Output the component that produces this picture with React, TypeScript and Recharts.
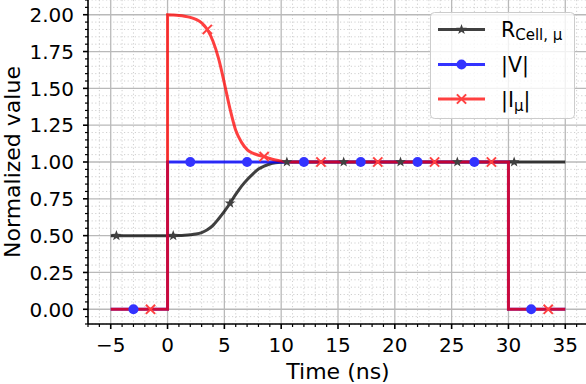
import React from 'react';
import { LineChart, Line, XAxis, YAxis, CartesianGrid } from 'recharts';

const FONT = '"DejaVu Sans", Verdana, sans-serif';

// ---- data ----
const rTime = [-5, -4.5, 0, 0.5, 1, 1.5, 2, 2.5, 3, 3.5, 4, 4.5, 5, 5.5, 6, 6.5, 7, 7.5, 8, 8.5, 9, 9.5, 10, 10.5, 11, 15.5, 20.5, 25.5, 30.5, 35];
const rValue = [0.5, 0.5, 0.5, 0.5, 0.501, 0.503, 0.506, 0.511, 0.521, 0.54, 0.57, 0.615, 0.665, 0.72, 0.78, 0.835, 0.88, 0.918, 0.952, 0.972, 0.986, 0.994, 0.998, 1.0, 1.0, 1.0, 1.0, 1.0, 1.0, 1.0];

const vTime = [-5, -3, 0, 0, 2, 7, 12, 17, 22, 27, 30, 30, 32, 35];
const vValue = [0, 0, 0, 1, 1, 1, 1, 1, 1, 1, 1, 0, 0, 0];

const iTime = [-5, -1.5, 0, 0, 0.5, 1, 1.5, 2, 2.5, 3, 3.5, 4, 4.5, 5, 5.5, 6, 6.5, 7, 7.5, 8, 8.5, 9, 9.5, 10, 11, 13.5, 18.5, 23.5, 28.5, 30, 30, 33.5, 35];
const iValue = [0, 0, 0, 2.0, 1.998, 1.995, 1.99, 1.982, 1.968, 1.945, 1.9, 1.82, 1.7, 1.535, 1.36, 1.215, 1.135, 1.084, 1.06, 1.046, 1.037, 1.024, 1.013, 1.006, 1.0, 1, 1, 1, 1, 1, 0, 0, 0];

// marker positions (markevery)
const rMarks = [-4.5, 0.5, 5.5, 10.5, 15.5, 20.5, 25.5, 30.5];
const vMarks = [-3, 2, 7, 12, 17, 22, 27, 32];
const iMarks = [-1.5, 3.5, 8.5, 13.5, 18.5, 23.5, 28.5, 33.5];

// ticks
const xMajorTicks = [-5, 0, 5, 10, 15, 20, 25, 30, 35];
const yMajorTicks = [0, 0.25, 0.5, 0.75, 1, 1.25, 1.5, 1.75, 2];
const xDomain: [number, number] = [-7, 37];
const yDomain: [number, number] = [-0.1, 2.1];

const xMinorTicks: number[] = [];
for (let v = -7; v <= 37; v++) if (v % 5 !== 0) xMinorTicks.push(v);
const yMinorTicks: number[] = [];
for (let k = -2; k <= 42; k++) if (k % 5 !== 0) yMinorTicks.push(Math.round(k * 5) / 100);
const xAllTicks = [...xMinorTicks, ...xMajorTicks].sort((a, b) => a - b);
const yAllTicks = [...yMinorTicks, ...yMajorTicks].sort((a, b) => a - b);

const zip = (xs: number[], ys: number[]) => xs.map((x, i) => ({ x, y: ys[i] }));
const rData = zip(rTime, rValue);
const vData = zip(vTime, vValue);
const iData = zip(iTime, iValue);

// colours
const BLACK = '#000000';
const BLUE = '#0000ff';
const RED = '#ff0000';
const BLACK_M = '#404040';
const BLUE_M = '#3333ff';
const RED_M = '#ff4040';

const starPath = (cx: number, cy: number, R = 5.6, r = 2.3) => {
  let d = '';
  for (let i = 0; i < 10; i++) {
    const a = -Math.PI / 2 + (i * Math.PI) / 5;
    const rad = i % 2 === 0 ? R : r;
    d += (i === 0 ? 'M' : 'L') + (cx + rad * Math.cos(a)).toFixed(2) + ',' + (cy + rad * Math.sin(a)).toFixed(2);
  }
  return d + 'Z';
};

const Star = ({ cx, cy }: { cx: number; cy: number }) => <path d={starPath(cx, cy)} fill={BLACK_M} />;
const Circ = ({ cx, cy }: { cx: number; cy: number }) => <circle cx={cx} cy={cy} r={5} fill={BLUE_M} />;
const Cross = ({ cx, cy }: { cx: number; cy: number }) => (
  <g stroke={RED_M} strokeWidth={2}>
    <line x1={cx - 4.6} y1={cy - 4.6} x2={cx + 4.6} y2={cy + 4.6} />
    <line x1={cx - 4.6} y1={cy + 4.6} x2={cx + 4.6} y2={cy - 4.6} />
  </g>
);

const makeDot = (marks: number[], Shape: any) => (props: any) => {
  const { cx, cy, payload, index } = props;
  if (!payload || !marks.includes(payload.x) || cx == null || cy == null) return <g key={'d' + index} />;
  return <g key={'d' + index}><Shape cx={cx} cy={cy} /></g>;
};

const fmtX = (v: number) => (v < 0 ? '\u2212' + Math.abs(v) : String(v));

const XTick = (props: any) => {
  const { x, y, payload } = props;
  const v = payload.value;
  const major = xMajorTicks.includes(v);
  return (
    <g>
      <line x1={x} x2={x} y1={y} y2={y + (major ? 5 : 3)} stroke="#000" strokeWidth={major ? 1.6 : 1.2} />
      {major && (
        <text x={x} y={y + 28} textAnchor="middle" fontSize={20} fontFamily={FONT} fill="#000">
          {fmtX(v)}
        </text>
      )}
    </g>
  );
};

const YTick = (props: any) => {
  const { x, y, payload } = props;
  const v = payload.value;
  const major = Math.abs(v * 4 - Math.round(v * 4)) < 1e-6;
  return (
    <g>
      <line x1={x - (major ? 5 : 3)} x2={x} y1={y} y2={y} stroke="#000" strokeWidth={major ? 1.6 : 1.2} />
      {major && (
        <text x={x - 14} y={y + 7.3} textAnchor="end" fontSize={20} fontFamily={FONT} fill="#000">
          {v.toFixed(2)}
        </text>
      )}
    </g>
  );
};

const Legend = () => {
  const lx1 = 438, lx2 = 485, mx = 461.5, tx = 501;
  const rows = [29.5, 64.5, 99];
  return (
    <svg width={586} height={384} style={{ position: 'absolute', left: 0, top: 0, pointerEvents: 'none' }}>
      <rect x={430.5} y={12.5} width={144} height={106} rx={4} fill="#ffffff" fillOpacity={0.8} stroke="#cccccc" strokeWidth={1} />
      <line x1={lx1} x2={lx2} y1={rows[0]} y2={rows[0]} stroke={BLACK} strokeOpacity={0.75} strokeWidth={3} />
      <Star cx={mx} cy={rows[0]} />
      <line x1={lx1} x2={lx2} y1={rows[1]} y2={rows[1]} stroke={BLUE} strokeOpacity={0.8} strokeWidth={3} />
      <Circ cx={mx} cy={rows[1]} />
      <line x1={lx1} x2={lx2} y1={rows[2]} y2={rows[2]} stroke={RED} strokeOpacity={0.75} strokeWidth={3} />
      <Cross cx={mx} cy={rows[2]} />
      <g fontFamily={FONT} fill="#000" fontSize={20.5}>
        <text x={tx} y={rows[0] + 7.3}>
          <tspan>R</tspan>
          <tspan fontSize={15} dy={3.5}>Cell, μ</tspan>
        </text>
        <text x={tx} y={rows[1] + 7.5}>|V|</text>
        <text x={tx} y={rows[2] + 7.5}>
          <tspan>|I</tspan>
          <tspan fontSize={15} dy={4}>μ</tspan>
          <tspan dy={-4}>|</tspan>
        </text>
      </g>
      <g fontFamily={FONT} fill="#000" fontSize={22}>
        <text x={338} y={378.5} textAnchor="middle">Time (ns)</text>
        <text x={20} y={162} textAnchor="middle" transform="rotate(-90 20 162)">Normalized value</text>
      </g>
    </svg>
  );
};

export default function App() {
  return (
    <div style={{ position: 'absolute', left: 0, top: 0, width: 586, height: 384, overflow: 'hidden', background: '#fff' }}>
      <LineChart width={588} height={384} margin={{ top: 0, right: 0, bottom: 0, left: 0 }}>
        <CartesianGrid verticalValues={xMinorTicks} horizontalValues={yMinorTicks} stroke="#cfcfcf" strokeDasharray="1.2 2.4" strokeWidth={1} />
        <CartesianGrid verticalValues={xMajorTicks} horizontalValues={yMajorTicks} stroke="#b9b9b9" strokeWidth={1.3} />
        <XAxis
          dataKey="x"
          type="number"
          domain={xDomain}
          allowDataOverflow
          ticks={xAllTicks}
          interval={0}
          height={60}
          tickSize={0}
          tickMargin={0}
          tickLine={false}
          tick={<XTick />}
          axisLine={{ stroke: '#000', strokeWidth: 1.6 }}
        />
        <XAxis
          xAxisId="top"
          orientation="top"
          type="number"
          domain={xDomain}
          allowDataOverflow
          height={0}
          tick={false}
          tickLine={false}
          axisLine={{ stroke: '#000', strokeWidth: 1.6 }}
        />
        <YAxis
          type="number"
          domain={yDomain}
          allowDataOverflow
          ticks={yAllTicks}
          interval={0}
          width={88}
          tickSize={0}
          tickMargin={0}
          tickLine={false}
          tick={<YTick />}
          axisLine={{ stroke: '#000', strokeWidth: 1.6 }}
        />
        <Line data={rData} dataKey="y" type="monotone" stroke={BLACK} strokeOpacity={0.75} strokeWidth={3} dot={makeDot(rMarks, Star)} activeDot={false} isAnimationActive={false} />
        <Line data={vData} dataKey="y" type="linear" stroke={BLUE} strokeOpacity={0.8} strokeWidth={3} dot={makeDot(vMarks, Circ)} activeDot={false} isAnimationActive={false} />
        <Line data={iData} dataKey="y" type="monotone" stroke={RED} strokeOpacity={0.75} strokeWidth={3} dot={makeDot(iMarks, Cross)} activeDot={false} isAnimationActive={false} />
      </LineChart>
      <Legend />
    </div>
  );
}
